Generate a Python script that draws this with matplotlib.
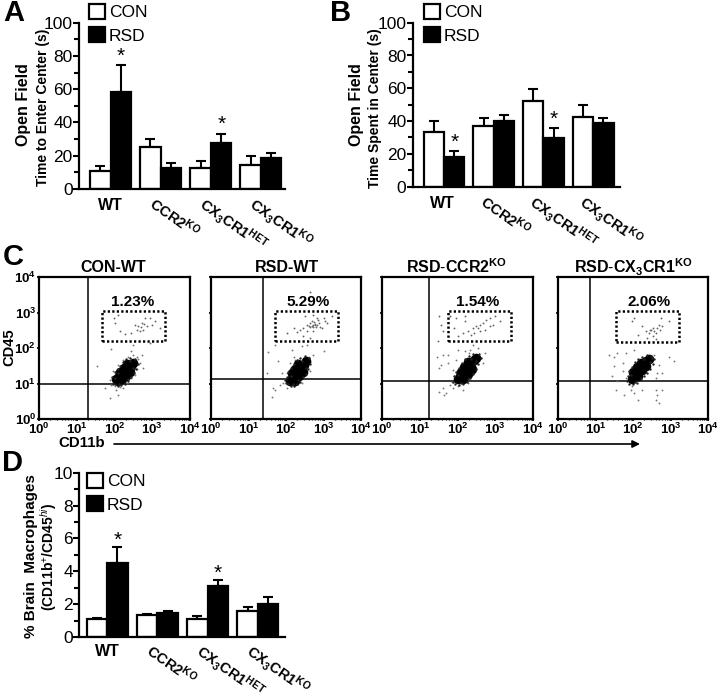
import numpy as np
import matplotlib
matplotlib.use("Agg")
import matplotlib.pyplot as plt
from matplotlib.patches import Patch, Rectangle, FancyArrowPatch
from matplotlib.ticker import FixedLocator, NullFormatter

plt.rcParams['font.family'] = ['Liberation Sans', 'DejaVu Sans']
plt.rcParams['mathtext.fontset'] = 'custom'
plt.rcParams['mathtext.rm'] = 'Liberation Sans'
plt.rcParams['mathtext.it'] = 'Liberation Sans:italic'
plt.rcParams['mathtext.bf'] = 'Liberation Sans:bold'

W, H = 720, 697

# Bar data
groups = ['WT', r'$\mathbf{CCR2^{KO}}$', r'$\mathbf{CX_3CR1^{HET}}$', r'$\mathbf{CX_3CR1^{KO}}$']

a_con = [10.6, 25.3, 12.7, 14.5]
a_con_err = [3.3, 4.4, 3.8, 5.2]
a_rsd = [58.0, 12.2, 27.3, 18.5]
a_rsd_err = [16.3, 3.5, 5.7, 3.2]

b_con = [33.3, 37.2, 52.0, 42.3]
b_con_err = [6.5, 4.5, 7.6, 7.7]
b_rsd = [18.3, 39.8, 29.7, 38.6]
b_rsd_err = [3.7, 3.9, 6.3, 3.1]

d_con = [1.11, 1.32, 1.11, 1.56]
d_con_err = [0.06, 0.10, 0.19, 0.26]
d_rsd = [4.50, 1.44, 3.12, 2.02]
d_rsd_err = [1.00, 0.12, 0.36, 0.39]

# Flow panels, events read as log10 (CD11b, CD45)
con_wt_core = [(2.05, 1.12), (2.12, 1.2), (2.2, 1.27), (2.28, 1.35), (2.36, 1.43), (2.44, 1.5), (2.5, 1.57),
               (2.15, 1.32), (2.25, 1.45), (2.33, 1.55), (2.2, 1.12), (2.3, 1.22), (2.4, 1.32), (2.1, 1.08)]
con_wt_edge = [(1.95, 1.0), (2.0, 1.15), (1.93, 1.18), (2.02, 1.32), (2.08, 1.42), (2.15, 1.5), (2.22, 1.6),
               (2.3, 1.68), (2.42, 1.72), (2.55, 1.7), (2.62, 1.55), (2.58, 1.42), (2.52, 1.3), (2.45, 1.18),
               (2.36, 1.08), (2.28, 1.0), (2.18, 0.95), (2.08, 0.93), (2.0, 1.0), (2.12, 1.0), (2.4, 1.62),
               (2.5, 1.45), (2.1, 1.3), (2.35, 1.12)]
con_wt_gate = [(1.99, 2.85), (2.1, 2.94), (2.01, 2.71), (2.14, 2.47), (2.28, 2.4), (2.45, 2.42), (2.59, 2.52),
               (2.63, 2.61), (2.76, 2.52), (2.81, 2.85), (2.94, 2.85), (2.72, 2.71), (2.99, 2.66), (3.08, 2.75),
               (3.21, 2.57), (2.85, 2.61), (2.54, 2.66), (2.68, 2.47), (2.94, 2.14), (2.7, 2.6), (2.78, 2.68)]
con_wt_halo = [(1.54, 1.5), (1.92, 1.98), (2.5, 2.08), (2.45, 1.91), (2.72, 1.81), (2.59, 1.76), (2.68, 1.58),
               (2.76, 1.43), (2.54, 1.25), (1.74, 0.87), (1.88, 0.6), (2.05, 0.82), (2.1, 0.68), (2.23, 0.87),
               (1.88, 1.1), (1.96, 1.34), (2.1, 1.53), (2.23, 1.67), (2.36, 1.76), (2.01, 0.92), (2.32, 1.01),
               (2.45, 1.15), (1.9, 0.95), (2.5, 1.8), (2.62, 1.7), (2.15, 0.9), (2.0, 1.2), (2.6, 1.4)]

rsd_wt_core = [(2.1, 1.08), (2.17, 1.16), (2.24, 1.25), (2.32, 1.34), (2.4, 1.43), (2.47, 1.52), (2.53, 1.62),
               (2.15, 1.3), (2.25, 1.42), (2.33, 1.55), (2.25, 1.08), (2.35, 1.2), (2.45, 1.32)]
rsd_wt_edge = [(2.0, 1.02), (2.02, 1.18), (2.05, 1.32), (2.12, 1.43), (2.2, 1.55), (2.28, 1.66), (2.38, 1.72),
               (2.5, 1.78), (2.6, 1.72), (2.64, 1.55), (2.58, 1.42), (2.54, 1.28), (2.46, 1.18), (2.38, 1.05),
               (2.3, 0.98), (2.22, 0.93), (2.14, 0.92), (2.06, 0.98), (2.18, 1.0), (2.42, 1.62), (2.52, 1.45),
               (2.12, 1.22), (2.32, 1.1), (1.96, 1.1)]
rsd_wt_gate = [(2.64, 3.58), (2.73, 2.94), (2.51, 2.9), (2.82, 2.85), (3.0, 2.85), (3.22, 2.9), (2.02, 2.42),
               (2.21, 2.57), (2.38, 2.52), (2.46, 2.57), (2.55, 2.66), (2.6, 2.62), (2.64, 2.7), (2.69, 2.63),
               (2.73, 2.6), (2.78, 2.67), (2.82, 2.66), (2.87, 2.7), (2.91, 2.6), (2.96, 2.56), (3.04, 2.75),
               (2.55, 2.47), (2.73, 2.47), (2.64, 2.28), (2.7, 2.75), (2.75, 2.72), (2.65, 2.58), (2.8, 2.6),
               (2.72, 2.66), (2.76, 2.64), (2.85, 2.78), (2.45, 2.35), (3.1, 2.7), (2.3, 2.45)]
rsd_wt_halo = [(1.53, 1.89), (1.7, 2.09), (1.79, 1.64), (1.48, 1.29), (2.15, 1.95), (2.21, 1.76), (2.42, 2.05),
               (2.55, 2.09), (2.73, 1.81), (3.0, 1.91), (2.64, 1.34), (2.64, 1.6), (1.66, 0.87), (1.7, 0.82),
               (1.84, 0.96), (1.62, 0.63), (1.93, 1.01), (2.02, 1.29), (1.88, 1.29), (2.11, 1.58), (2.24, 1.67),
               (2.2, 0.92), (2.02, 0.87), (2.42, 1.01), (2.51, 1.25), (2.25, 0.95), (2.6, 1.75), (2.0, 1.1)]

rsd_ccr2_core = [(2.0, 1.12), (2.07, 1.2), (2.15, 1.3), (2.23, 1.4), (2.3, 1.5), (2.37, 1.58), (2.44, 1.66),
                 (2.5, 1.72), (2.08, 1.33), (2.18, 1.47), (2.28, 1.6), (2.15, 1.13), (2.27, 1.27), (2.38, 1.42)]
rsd_ccr2_edge = [(1.88, 1.05), (1.9, 1.2), (1.96, 1.33), (2.04, 1.45), (2.12, 1.58), (2.2, 1.7), (2.3, 1.78),
                 (2.42, 1.82), (2.56, 1.84), (2.62, 1.72), (2.55, 1.55), (2.48, 1.42), (2.4, 1.28), (2.32, 1.15),
                 (2.24, 1.05), (2.14, 0.98), (2.04, 0.96), (1.94, 1.0), (2.1, 1.02), (2.36, 1.7), (2.46, 1.55),
                 (2.02, 1.25), (2.28, 1.12), (2.5, 1.62)]
rsd_ccr2_gate = [(1.52, 2.9), (1.56, 2.66), (1.61, 2.47), (1.48, 2.19), (1.79, 2.9), (1.96, 2.85), (2.19, 2.9),
                 (1.92, 2.57), (2.14, 2.42), (2.28, 2.47), (2.41, 2.57), (2.5, 2.61), (2.59, 2.66), (2.68, 2.71),
                 (2.76, 2.8), (2.85, 2.85), (2.99, 2.9), (3.12, 2.75), (2.45, 2.42), (2.59, 2.47), (2.72, 2.52),
                 (2.85, 2.61), (2.94, 2.66), (2.36, 2.38), (2.54, 2.57), (2.19, 2.75), (2.01, 2.33)]
rsd_ccr2_halo = [(1.46, 1.76), (1.61, 1.81), (1.74, 1.81), (1.56, 1.53), (1.74, 1.58), (1.52, 1.43), (1.96, 1.67),
                 (1.88, 1.39), (2.01, 1.95), (2.19, 1.91), (2.41, 2.09), (2.32, 1.95), (2.54, 2.0), (2.72, 1.86),
                 (2.68, 1.58), (1.52, 0.77), (1.61, 0.87), (1.7, 0.73), (1.88, 0.87), (1.79, 0.96), (2.01, 0.92),
                 (2.14, 0.82), (1.65, 0.68), (2.28, 1.01), (2.45, 1.29), (1.85, 1.05), (2.6, 1.75), (2.3, 1.85)]

rsd_cx3_core = [(1.98, 1.13), (2.03, 1.25), (2.1, 1.35), (2.18, 1.45), (2.26, 1.55), (2.34, 1.62), (2.42, 1.68),
                (2.0, 1.32), (2.1, 1.47), (2.2, 1.58), (2.12, 1.22), (2.25, 1.38), (2.35, 1.5)]
rsd_cx3_edge = [(1.84, 1.08), (1.86, 1.22), (1.9, 1.35), (1.98, 1.47), (2.06, 1.6), (2.14, 1.7), (2.24, 1.76),
                (2.36, 1.8), (2.48, 1.78), (2.56, 1.68), (2.52, 1.55), (2.44, 1.42), (2.36, 1.3), (2.28, 1.2),
                (2.2, 1.1), (2.1, 1.02), (2.0, 0.98), (1.9, 1.0), (2.04, 1.04), (2.3, 1.7), (2.44, 1.6),
                (1.94, 1.25), (2.22, 1.15), (2.5, 1.72)]
rsd_cx3_gate = [(1.98, 2.75), (2.03, 2.85), (2.12, 2.38), (2.25, 2.61), (2.34, 2.47), (2.43, 2.42), (2.47, 2.52),
                (2.52, 2.33), (2.56, 2.47), (2.6, 2.42), (2.65, 2.57), (2.69, 2.66), (2.74, 2.85), (2.72, 2.52),
                (2.78, 2.61), (2.96, 2.75), (2.38, 2.28), (2.52, 2.57), (2.6, 2.24), (2.45, 2.5)]
rsd_cx3_halo = [(1.36, 1.81), (1.49, 1.76), (1.58, 1.86), (1.8, 1.86), (2.03, 1.95), (1.72, 1.58), (1.49, 1.48),
                (1.45, 1.2), (1.72, 1.34), (2.56, 1.81), (2.96, 1.76), (3.09, 1.62), (2.69, 1.53), (2.65, 1.29),
                (2.78, 1.29), (2.6, 1.15), (1.54, 0.82), (1.76, 0.68), (1.94, 0.82), (2.03, 0.73), (1.98, 0.92),
                (2.12, 0.54), (2.25, 0.82), (2.6, 0.82), (2.65, 0.68), (2.78, 0.82), (2.6, 0.54), (2.69, 0.44),
                (1.58, 1.06), (1.8, 1.15)]

flow_titles = ['CON-WT', 'RSD-WT', r'$\mathbf{RSD\text{-}CCR2^{KO}}$', r'$\mathbf{RSD\text{-}CX_3CR1^{KO}}$']
flow_pct = ['1.23%', '5.29%', '1.54%', '2.06%']
flow_vline = [20, 25, 18, 7.2]
flow_hline = [10, 13.2, 11.5, 11.5]
flow_gate_x = [(47, 2190), (52, 2510), (55, 2570), (35, 1700)]
flow_gate_y = [(162, 1100), (162, 1100), (162, 1100), (145, 1100)]
decade_ticks = [1, 10, 100, 1000, 10000]
decade_labels = [r'$\mathbf{10^{%d}}$' % i for i in range(5)]


def px_axes(left, top, right, bottom):
    return fig.add_axes([left / W, 1 - bottom / H, (right - left) / W, (bottom - top) / H])


def px_text(x, y, s, **kw):
    fig.text(x / W, 1 - y / H, s, **kw)


def bar_panel(box, xlim, ymax, step, con, con_err, rsd, rsd_err, leg_anchor):
    ax = px_axes(*box)
    x = np.arange(4)
    w = 0.41
    ax.errorbar(x - w / 2, con, yerr=[np.zeros(4), con_err], fmt='none', ecolor='k', elinewidth=1.5,
                capsize=3.8, capthick=1.5, zorder=1)
    ax.errorbar(x + w / 2, rsd, yerr=[np.zeros(4), rsd_err], fmt='none', ecolor='k', elinewidth=1.5,
                capsize=3.8, capthick=1.5, zorder=1)
    ax.bar(x - w / 2, con, w, color='white', edgecolor='k', linewidth=1.6, zorder=2)
    ax.bar(x + w / 2, rsd, w, color='k', edgecolor='k', linewidth=1.6, zorder=2)
    ax.set_xlim(*xlim)
    ax.set_ylim(0, ymax)
    ax.set_yticks(np.arange(0, ymax + step, step))
    ax.set_yticks(np.arange(0, ymax + step / 2, step / 2), minor=True)
    ax.tick_params(axis='y', which='major', length=4, width=1.5, labelsize=12.5, pad=0.5)
    ax.tick_params(axis='y', which='minor', length=3.5, width=1.5)
    ax.set_xticks([])
    for s in ['top', 'right']:
        ax.spines[s].set_visible(False)
    for s in ['left', 'bottom']:
        ax.spines[s].set_linewidth(1.6)
    ax.patch.set_alpha(0)
    handles = [Patch(facecolor='white', edgecolor='k', linewidth=1.6, label='CON'),
               Patch(facecolor='k', edgecolor='k', linewidth=1.6, label='RSD')]
    ax.legend(handles=handles, loc='upper left', bbox_to_anchor=(leg_anchor[0] / W, 1 - leg_anchor[1] / H),
              bbox_transform=fig.transFigure, frameon=False, fontsize=12.5, handlelength=0.95, handleheight=0.95,
              handletextpad=0.2, labelspacing=0.38, borderpad=0, borderaxespad=0)
    return ax


def group_labels(x0, dx, y):
    # WT sits flat, the others slope down to the right
    for i, g in enumerate(groups):
        if i == 0:
            px_text(x0, y + 2, g, fontsize=11.5, fontweight='bold', ha='center', va='center')
        else:
            fig.text((x0 + dx * i - 4) / W, 1 - (y - 9) / H, g, fontsize=10.5, rotation=-35, ha='left', va='top',
                     rotation_mode='anchor')


def flow_panel(box, idx, core, edge, gate, halo):
    ax = px_axes(*box)
    ax.set_xscale('log')
    ax.set_yscale('log')
    ax.set_xlim(1, 10000)
    ax.set_ylim(1, 10000)
    core = np.array(core)
    edge = np.array(edge)
    gate = np.array(gate)
    halo = np.array(halo)
    ax.scatter(10 ** core[:, 0], 10 ** core[:, 1], s=48, c='k', linewidths=0, zorder=3)
    ax.scatter(10 ** edge[:, 0], 10 ** edge[:, 1], s=3, c='#222222', linewidths=0, zorder=3)
    ax.scatter(10 ** halo[:, 0], 10 ** halo[:, 1], s=1.8, c='#777777', linewidths=0, zorder=2)
    ax.scatter(10 ** gate[:, 0], 10 ** gate[:, 1], s=1.8, c='#666666', linewidths=0, zorder=2)
    ax.axvline(flow_vline[idx], color='k', lw=1.1, zorder=1)
    ax.axhline(flow_hline[idx], color='k', lw=1.1, zorder=1)
    gx, gy = flow_gate_x[idx], flow_gate_y[idx]
    ax.add_patch(Rectangle((gx[0], gy[0]), gx[1] - gx[0], gy[1] - gy[0], fill=False, edgecolor='k', lw=1.8,
                           linestyle=(0, (0.9, 0.9)), zorder=4))
    ax.xaxis.set_major_locator(FixedLocator(decade_ticks))
    ax.yaxis.set_major_locator(FixedLocator(decade_ticks))
    ax.set_xticklabels(decade_labels)
    if idx == 0:
        ax.set_yticklabels(decade_labels)
    else:
        ax.yaxis.set_major_formatter(NullFormatter())
    minor = [m * d for d in decade_ticks[:-1] for m in range(2, 10)]
    ax.xaxis.set_minor_locator(FixedLocator(minor))
    ax.yaxis.set_minor_locator(FixedLocator(minor))
    ax.xaxis.set_minor_formatter(NullFormatter())
    ax.yaxis.set_minor_formatter(NullFormatter())
    ax.tick_params(which='major', direction='out', length=1.5, width=1.2, labelsize=9.5, pad=0.5)
    ax.tick_params(which='minor', direction='out', length=1, width=0.8)
    for s in ax.spines.values():
        s.set_linewidth(1.6)
    return ax


fig = plt.figure(figsize=(W / 100, H / 100), dpi=100)

# A
ax_a = bar_panel((79, 22.7, 285, 188.7), (-0.63, 3.48), 100, 20, a_con, a_con_err, a_rsd, a_rsd_err, (89, 4))
ax_a.text(0.21, 80, '*', fontsize=15, ha='center', va='center')
ax_a.text(2.21, 38.5, '*', fontsize=15, ha='center', va='center')
group_labels(110.5, 50.2, 203)
px_text(24, 105, 'Open Field', fontsize=11.5, fontweight='bold', rotation=90, ha='center', va='center')
px_text(43, 107, 'Time to Enter Center (s)', fontsize=10, fontweight='bold', rotation=90, ha='center', va='center')

# B
ax_b = bar_panel((412.7, 22.7, 620, 186.7), (-0.63, 3.54), 100, 20, b_con, b_con_err, b_rsd, b_rsd_err, (424, 4))
ax_b.text(0.21, 27, '*', fontsize=15, ha='center', va='center')
ax_b.text(2.21, 41, '*', fontsize=15, ha='center', va='center')
group_labels(442, 49.7, 201)
px_text(356, 105, 'Open Field', fontsize=11.5, fontweight='bold', rotation=90, ha='center', va='center')
px_text(375, 108, 'Time Spent in Center (s)', fontsize=10, fontweight='bold', rotation=90, ha='center', va='center')

# C
boxes = [(39, 277, 190, 419), (211, 277, 361, 419), (382, 277, 533, 419), (558, 277, 708, 419)]
cores = [con_wt_core, rsd_wt_core, rsd_ccr2_core, rsd_cx3_core]
edges = [con_wt_edge, rsd_wt_edge, rsd_ccr2_edge, rsd_cx3_edge]
gates = [con_wt_gate, rsd_wt_gate, rsd_ccr2_gate, rsd_cx3_gate]
halos = [con_wt_halo, rsd_wt_halo, rsd_ccr2_halo, rsd_cx3_halo]
title_x = [113, 287, 457, 633]
pct_x = [133, 308, 478, 649]
for i in range(4):
    flow_panel(boxes[i], i, cores[i], edges[i], gates[i], halos[i])
    px_text(title_x[i], 267, flow_titles[i], fontsize=11.5, fontweight='bold', ha='center', va='center')
    px_text(pct_x[i], 302, flow_pct[i], fontsize=11, fontweight='bold', ha='center', va='center')
px_text(9, 347, 'CD45', fontsize=10.5, fontweight='bold', rotation=90, ha='center', va='center')
px_text(82, 443, 'CD11b', fontsize=10.8, fontweight='bold', ha='center', va='center')
fig.add_artist(FancyArrowPatch((114 / W, 1 - 444 / H), (640 / W, 1 - 444 / H), transform=fig.transFigure,
                               arrowstyle='-|>', mutation_scale=11, color='k', lw=1.2, shrinkA=0, shrinkB=0))

# D
ax_d = bar_panel((79, 472.7, 285, 637), (-0.56, 3.54), 10, 2, d_con, d_con_err, d_rsd, d_rsd_err, (87, 473))
ax_d.text(0.21, 5.9, '*', fontsize=15, ha='center', va='center')
ax_d.text(2.21, 3.9, '*', fontsize=15, ha='center', va='center')
group_labels(107, 50.3, 650)
px_text(31, 556, '% Brain  Macrophages', fontsize=11, fontweight='bold', rotation=90, ha='center', va='center')
px_text(49, 557, r'(CD11b$^{+}$/CD45$^{hi}$)', fontsize=10, fontweight='bold', rotation=90, ha='center', va='center')

# panel letters
letters = ['A', 'B', 'C', 'D']
letter_x = [3, 330, 3, 2]
letter_y = [13, 13, 257, 463]
for s, lx, ly in zip(letters, letter_x, letter_y):
    px_text(lx, ly, s, fontsize=21, fontweight='bold', ha='left', va='center')

fig.savefig('out.png', dpi=100)
